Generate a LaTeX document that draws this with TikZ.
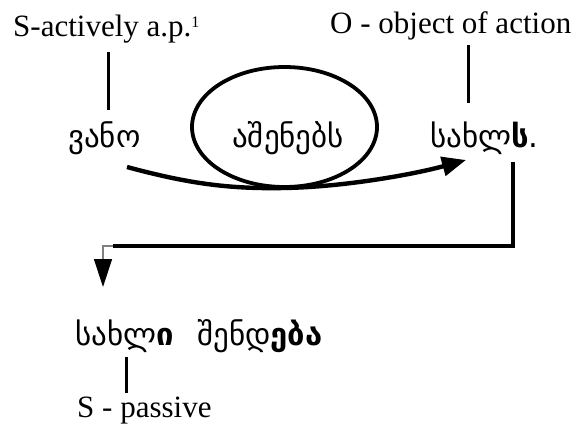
\documentclass[tikz,border=0pt]{standalone}
\usepackage{fontspec}
\setmainfont{Liberation Serif}
\newfontfamily\geo{DejaVu Sans}
\usetikzlibrary{arrows.meta,shapes.geometric}
\tikzset{
 latin/.style={anchor=base west, inner sep=0pt, font=\fontsize{31}{36}\selectfont},
 word/.style={anchor=base west, inner sep=0pt, font=\geo\fontsize{31}{36}\selectfont},
 tick/.style={line width=3pt},
 loop/.style={draw, ellipse, line width=3.8pt, inner sep=0pt},
 bigarrow/.style={-{Triangle[length=24pt,width=19pt]}, line width=4.4pt},
 link/.style={line width=3.2pt},
 droparrow/.style={-{Triangle[length=28pt,width=18pt,color=black]}, draw=gray, line width=1.4pt}
}

\begin{document}
\begin{tikzpicture}[x=1pt,y=-1pt]
\useasboundingbox (0,0) rectangle (583,423);
% labels
\node[latin] (sact) at (13,36) {S-actively a.p.\raisebox{9pt}{\fontsize{16}{18}\selectfont 1}};
\node[latin] (obj) at (330,33) {O - object of action};
\node[latin] (pass) at (77,417) {S - passive};
% sentence 1
\node[loop, minimum width=185pt, minimum height=120pt] (ring) at (284.5,127) {};
\node[word] (vano) at (68,147) {ვანო};
\node[word] (verb) at (232,147) {აშენებს};
\node[word] (house) at (430,147) {სახლ\textbf{ს}.};
% sentence 2
\node[word] (houseb) at (75,345) {სახლ\textbf{ი}};
\node[word] (verbb) at (197,345) {შენდ\textbf{ება}};
% ticks
\coordinate (s1) at (108,52);  \coordinate (s2) at (108,110);
\coordinate (o1) at (468,45);  \coordinate (o2) at (468,103);
\coordinate (p1) at (126,357); \coordinate (p2) at (126,393);
\draw[tick] (s1) -- (s2);
\draw[tick] (o1) -- (o2);
\draw[tick] (p1) -- (p2);
% action arrow
\coordinate (a0) at (127,167);
\coordinate (a1) at (284,188);
\coordinate (a2) at (466,160);
\draw[bigarrow] (a0) .. controls (190,184) and (230,189) .. (a1) .. controls (345,187) and (415,174) .. (a2);
% passive transformation
\coordinate (r0) at (513,162);
\coordinate (r1) at (513,246);
\coordinate (r2) at (113,246);
\coordinate (d1) at (103,246);
\coordinate (d2) at (103,287);
\draw[link] (r0) -- (r1) -- (r2);
\draw[droparrow] (r2) -- (d1) -- (d2);
\end{tikzpicture}
\end{document}
